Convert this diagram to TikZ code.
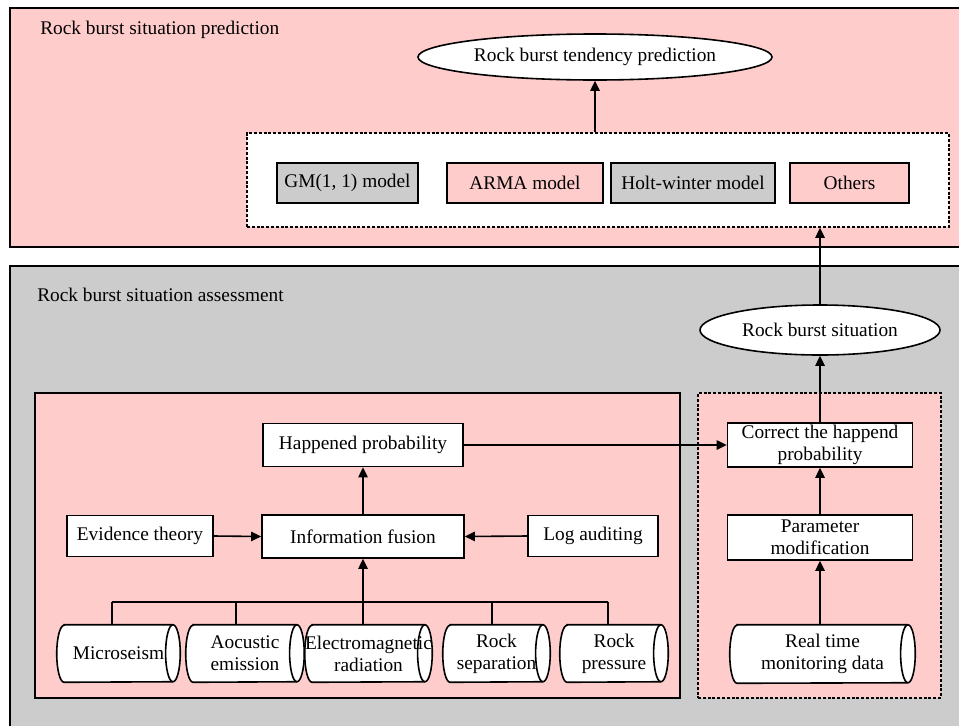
\documentclass[tikz,border=0pt]{standalone}
\usepackage{fontspec}
\setmainfont{Liberation Serif}
\usetikzlibrary{shapes.geometric,arrows.meta,calc}
\definecolor{pk}{HTML}{FFCCCC}
\definecolor{gy}{HTML}{CCCCCC}
\tikzset{
  every node/.style={font=\fontsize{14.5}{16.5}\selectfont, text=black},
  bx/.style={draw, line width=1.2pt, fill=white, rectangle, inner sep=0pt, align=center},
  ell/.style={draw, line width=1.2pt, fill=white, ellipse, inner sep=0pt},
  cylbox/.style={rectangle, inner sep=0pt, align=center},
  dsh/.style={draw, line width=1.2pt, dash pattern=on 2.2pt off 1.4pt, rectangle, inner sep=0pt},
  arr/.style={line width=1.2pt, -{Triangle[length=7.5pt,width=7pt]}},
  ln/.style={line width=1.2pt}
}
% #1 node name, #2 half height (pt)
\newcommand\cyloutline[2]{%
  \draw[ln, fill=white] ($(#1.north west)+(5.5pt,0)$) -- ($(#1.north east)-(5.5pt,0)$)
    arc[start angle=90, end angle=-90, x radius=5.5pt, y radius=#2]
    -- ($(#1.south west)+(5.5pt,0)$)
    arc[start angle=270, end angle=90, x radius=5.5pt, y radius=#2] -- cycle;
  \draw[ln] ($(#1.north east)-(5.5pt,0)$) arc[start angle=90, end angle=270, x radius=5.5pt, y radius=#2];
}
\begin{document}
\begin{tikzpicture}[x=0.75pt,y=-0.75pt]
\useasboundingbox (0,0) rectangle (959,725);
\clip (0,0) rectangle (959,725);
% outer panels
\draw[line width=1.2pt, fill=pk] (10,8) rectangle (975,247);
\draw[line width=1.2pt, fill=gy] (10,266) rectangle (975,740);
\node[anchor=west, inner sep=0pt] (t1) at (40,30) {Rock burst situation prediction};
\node[anchor=west, inner sep=0pt] (t2) at (37,295) {Rock burst situation assessment};
% prediction part
\node[ell, minimum width=265.5pt, minimum height=34.5pt] (e1) at (595,57) {Rock burst tendency prediction};
\node[dsh, fill=white, minimum width=526.5pt, minimum height=70.5pt] (db) at (598,180) {};
\node[bx, fill=gy, minimum width=105.75pt, minimum height=30pt] (gm) at (347.5,183) {GM(1, 1) model};
\node[bx, fill=pk, minimum width=117pt, minimum height=30pt] (arma) at (525,183) {ARMA model};
\node[bx, fill=gy, minimum width=123pt, minimum height=30pt] (holt) at (693,183) {Holt-winter model};
\node[bx, fill=pk, minimum width=89.25pt, minimum height=30pt] (oth) at (849.5,183) {Others};
\draw[arr] (e1 |- db.north) -- (e1.south);
% assessment part
\node[ell, minimum width=180pt, minimum height=37.5pt] (e2) at (820,330) {Rock burst situation};
\draw[arr] (e2.north) -- (e2 |- db.south);
\node[draw, line width=1.2pt, fill=pk, rectangle, minimum width=483.75pt, minimum height=228.75pt, inner sep=0pt] (lp) at (357.5,545.5) {};
\node[dsh, fill=pk, minimum width=182.25pt, minimum height=228.75pt] (rp) at (819.5,545.5) {};
\node[bx, minimum width=138.75pt, minimum height=33pt] (cor) at (820,445) {Correct the happend\\probability};
\node[bx, minimum width=138.75pt, minimum height=33.75pt] (par) at (820,537.5) {Parameter\\modification};
\node[cylbox, minimum width=138.75pt, minimum height=43.5pt] (rt) at (822.5,654) {};
\cyloutline{rt}{21.75pt}
\node[cylbox] (rtt) at (rt.center) {Real time\\monitoring data};
\draw[arr] (rt.north -| par) -- (par.south);
\draw[arr] (par.north) -- (cor.south);
\draw[arr] (cor.north) -- (e2.south);
\node[bx, minimum width=150pt, minimum height=32.25pt] (hap) at (363,445) {Happened probability};
\node[bx, minimum width=151.5pt, minimum height=32.25pt] (fus) at (363,536.5) {Information fusion};
\node[bx, minimum width=109.5pt, minimum height=30.75pt] (evi) at (140,536) {Evidence theory};
\node[bx, minimum width=97.5pt, minimum height=30.75pt] (log) at (593,536) {Log auditing};
\draw[arr] (hap.east) -- (cor.west);
\draw[arr] (fus.north) -- (hap.south);
\draw[arr] (evi.east) -- (fus.west);
\draw[arr] (log.west) -- (fus.east);
% cylinders
\node[cylbox, minimum width=92.25pt, minimum height=42.75pt] (c1) at (118.5,653.5) {};
\node[cylbox, minimum width=88.5pt, minimum height=42.75pt] (c2) at (245,653.5) {};
\node[cylbox, minimum width=95.25pt, minimum height=42.75pt] (c3) at (368.5,653.5) {};
\node[cylbox, minimum width=80.25pt, minimum height=42.75pt] (c4) at (496.5,653.5) {};
\node[cylbox, minimum width=81pt, minimum height=42.75pt] (c5) at (614,653.5) {};
\cyloutline{c1}{21.375pt}
\cyloutline{c2}{21.375pt}
\cyloutline{c3}{21.375pt}
\cyloutline{c4}{21.375pt}
\cyloutline{c5}{21.375pt}
\node[cylbox] (c1t) at (c1.center) {Microseism};
\node[cylbox] (c2t) at (c2.center) {Aocustic\\emission};
\node[cylbox] (c3t) at (c3.center) {Electromagnetic\\radiation};
\node[cylbox] (c4t) at (c4.center) {Rock\\separation};
\node[cylbox] (c5t) at (c5.center) {Rock\\pressure};
\coordinate (b1) at (112,602);
\coordinate (b2) at (236,602);
\coordinate (b3) at (363,602);
\coordinate (b4) at (492,602);
\coordinate (b5) at (608,602);
\draw[ln] (b1) -- (b5);
\draw[ln] (b1) -- (b1 |- c1.north);
\draw[ln] (b2) -- (b2 |- c2.north);
\draw[ln] (b3) -- (b3 |- c3.north);
\draw[ln] (b4) -- (b4 |- c4.north);
\draw[ln] (b5) -- (b5 |- c5.north);
\draw[arr] (b3) -- (fus.south);
\end{tikzpicture}
\end{document}
